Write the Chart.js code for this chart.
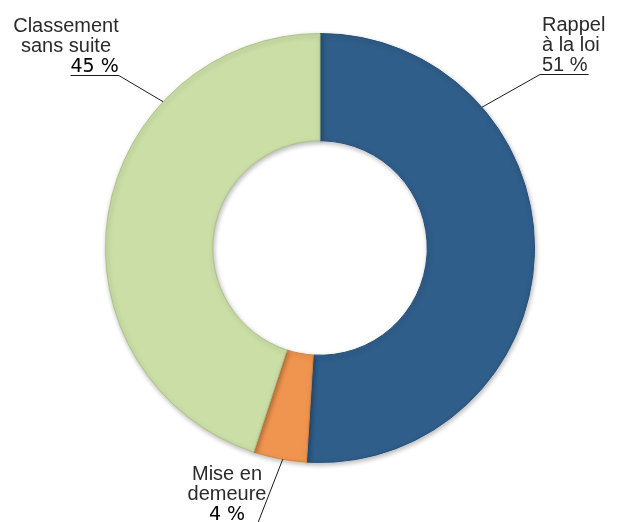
<!DOCTYPE html>
<html>
<head>
<meta charset="utf-8">
<script src="https://cdn.jsdelivr.net/npm/chart.js@4"></script>
<style>
  html, body { margin: 0; padding: 0; background: #fff; }
  #chart { display: block; }
</style>
</head>
<body>
<canvas id="chart" width="617" height="522"></canvas>
<script>
// Data
const CATEGORIES = ['Rappel à la loi', 'Mise en demeure', 'Classement sans suite'];
const VALUES = [51, 4, 45];
const COLORS = ['#2f5e8a', '#f0954f', '#cbdea6'];
const BORDERS = ['#27507a', '#d9823f', '#aec28a'];

// Label layout: text lines, where the block sits and where the leader hits the ring
const LABELS = [
  { lines: ['Rappel', 'à la loi'], pct: '51 %', x: 542, y: 31, align: 'left', pctStyle: 'light', angle: 49 },
  { lines: ['Mise en', 'demeure'], pct: '4 %', x: 227, y: 480, align: 'center', pctStyle: 'bold', angle: 190 },
  { lines: ['Classement', 'sans suite'], pct: '45 %', x: 66, y: 32, align: 'center', pctStyle: 'bold', angle: 313 },
];

const TEXT_FONT = '20px "Liberation Sans", Arial, sans-serif';
const PCT_LIGHT = '20px "Liberation Sans", Arial, sans-serif';
const PCT_BOLD = '19px "DejaVu Sans", sans-serif';

/**
 * Point on the outer edge of the ring, angle in degrees clockwise from top
 */
function ringPoint(arc, deg) {
  const a = (deg - 90) * Math.PI / 180;
  return { x: arc.x + Math.cos(a) * arc.outerRadius, y: arc.y + Math.sin(a) * arc.outerRadius };
}

// soft shadow under the ring
const shadowPlugin = {
  id: 'ringShadow',
  beforeDatasetsDraw(chart) {
    const ctx = chart.ctx;
    ctx.save();
    ctx.shadowColor = 'rgba(0, 0, 0, 0.28)';
    ctx.shadowBlur = 5;
    ctx.shadowOffsetX = 1;
    ctx.shadowOffsetY = 2;
  },
  afterDatasetsDraw(chart) {
    chart.ctx.restore();
  },
};

// labels with underline and leader lines
const calloutPlugin = {
  id: 'callouts',
  afterDraw(chart) {
    const ctx = chart.ctx;
    const arcs = chart.getDatasetMeta(0).data;
    ctx.save();
    ctx.textBaseline = 'alphabetic';

    LABELS.forEach((lab, i) => {
      const arc = arcs[i];
      const lineH = 20;

      ctx.fillStyle = '#2b2b2b';
      ctx.font = TEXT_FONT;
      ctx.textAlign = lab.align;
      lab.lines.forEach((txt, k) => ctx.fillText(txt, lab.x, lab.y + k * lineH));

      // percentage line
      const py = lab.y + lab.lines.length * lineH;
      ctx.font = lab.pctStyle === 'bold' ? PCT_BOLD : PCT_LIGHT;
      ctx.fillStyle = lab.pctStyle === 'bold' ? '#000' : '#2b2b2b';
      const w = ctx.measureText(lab.pct).width;
      let px0;
      if (i === 2) {
        // right edge lines up with the first text line
        ctx.font = TEXT_FONT;
        const right = lab.x + ctx.measureText(lab.lines[0]).width / 2;
        ctx.font = PCT_BOLD;
        px0 = right - w;
      } else if (lab.align === 'left') {
        px0 = lab.x;
      } else {
        px0 = lab.x - w / 2;
      }
      ctx.textAlign = 'left';
      ctx.fillText(lab.pct, px0, py);

      const target = ringPoint(arc, lab.angle);
      ctx.strokeStyle = '#1a1a1a';
      ctx.lineWidth = 1;
      ctx.beginPath();
      if (i === 1) {
        // leader runs down through the text and off the bottom edge
        const dx = -0.39;
        const yEnd = chart.height + 10;
        ctx.moveTo(target.x, target.y);
        ctx.lineTo(target.x + dx * (yEnd - target.y), yEnd);
      } else {
        const uy = py + 3.5;
        if (lab.align === 'left') {
          ctx.moveTo(px0 + w + 1, uy);
          ctx.lineTo(px0 - 2, uy);
        } else {
          ctx.moveTo(px0, uy);
          ctx.lineTo(px0 + w, uy);
        }
        ctx.lineTo(target.x, target.y);
      }
      ctx.stroke();
    });
    ctx.restore();
  },
};

const chartContext = document.getElementById('chart').getContext('2d');
const donutChart = new Chart(chartContext, {
  type: 'doughnut',
  data: {
    labels: CATEGORIES,
    datasets: [
      {
        data: VALUES,
        backgroundColor: COLORS,
        borderColor: BORDERS,
        borderWidth: 1,
      },
    ],
  },
  options: {
    responsive: false,
    animation: false,
    devicePixelRatio: 1,
    cutout: '50%',
    rotation: 0,
    layout: { padding: { left: 105, right: 82, top: 33, bottom: 59 } },
    plugins: {
      legend: { display: false },
      tooltip: { enabled: false },
    },
  },
  plugins: [shadowPlugin, calloutPlugin],
});
</script>
</body>
</html>
